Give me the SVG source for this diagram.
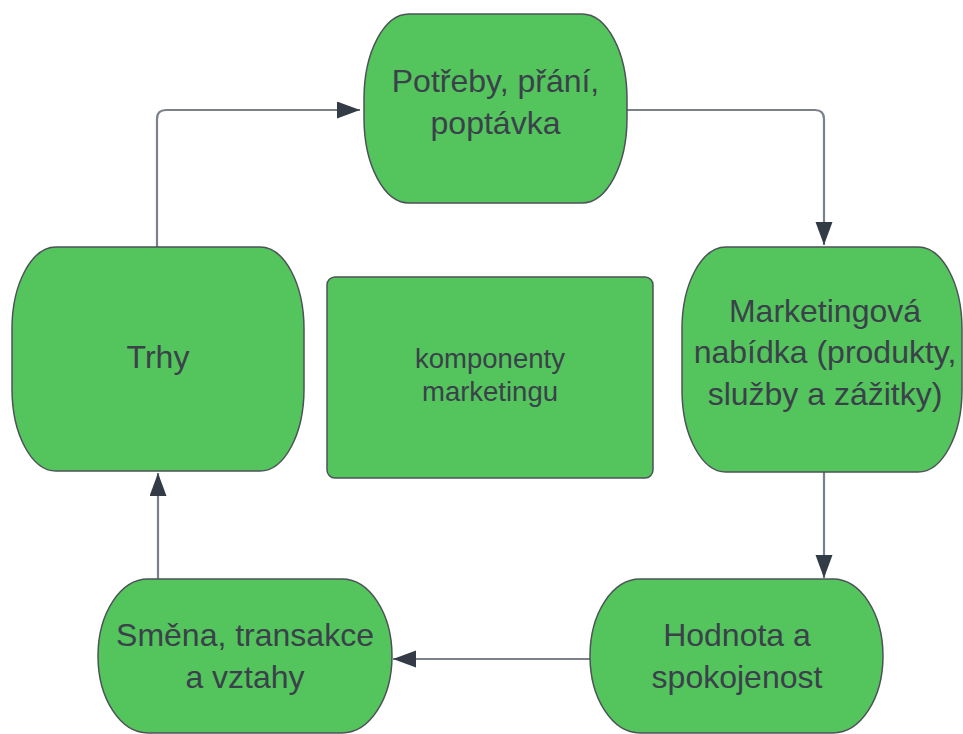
<svg xmlns="http://www.w3.org/2000/svg" width="963" height="734" viewBox="0 0 963 734">
<defs>
<marker id="arr" markerUnits="userSpaceOnUse" markerWidth="24" markerHeight="18" refX="23" refY="8.5" orient="auto">
<path d="M0,0 L23,8.5 L0,17 Z" fill="#333b47"/>
</marker>
<style>
.node{fill:#54c45c;stroke:#4d5258;stroke-width:1.5}
.t{font-family:"Liberation Sans",Arial,sans-serif;font-size:32px;fill:#3a414a;text-anchor:middle}
.s{font-family:"Liberation Sans",Arial,sans-serif;font-size:27.5px;fill:#3a414a;text-anchor:middle}
.c{fill:none;stroke:#7b8089;stroke-width:2.2}
</style>
</defs>
<rect width="963" height="734" fill="#ffffff"/>
<g id="connectors">
<path class="c" d="M157 247 V119 Q157 110 166 110 H360" marker-end="url(#arr)"/>
<path class="c" d="M627 110 H815 Q824 110 824 119 V245" marker-end="url(#arr)"/>
<path class="c" d="M824 472 V578" marker-end="url(#arr)"/>
<path class="c" d="M590 659 H393" marker-end="url(#arr)"/>
<path class="c" d="M158 579 V473" marker-end="url(#arr)"/>
</g>
<g id="node-potreby">
<rect class="node" x="364" y="14" width="263" height="189" rx="45" ry="85"/>
<text class="t" x="495.5" y="92">Potřeby, přání,</text>
<text class="t" x="495.5" y="134">poptávka</text>
</g>
<g id="node-trhy">
<rect class="node" x="12" y="247" width="292" height="224" rx="44" ry="82"/>
<text class="t" x="158" y="368">Trhy</text>
</g>
<g id="node-nabidka">
<rect class="node" x="682" y="247" width="280" height="225" rx="44" ry="82"/>
<text class="t" x="825" y="322">Marketingová</text>
<text class="t" x="825" y="363">nabídka (produkty,</text>
<text class="t" x="825" y="405">služby a zážitky)</text>
</g>
<g id="node-komponenty">
<rect class="node" x="327" y="277" width="326" height="201" rx="8" ry="8"/>
<text class="s" x="490" y="368">komponenty</text>
<text class="s" x="490" y="401">marketingu</text>
</g>
<g id="node-hodnota">
<rect class="node" x="590" y="579" width="293" height="154" rx="50" ry="77"/>
<text class="t" x="737" y="646">Hodnota a</text>
<text class="t" x="737" y="688">spokojenost</text>
</g>
<g id="node-smena">
<rect class="node" x="98" y="579" width="294" height="154" rx="50" ry="77"/>
<text class="t" x="245" y="646">Směna, transakce</text>
<text class="t" x="245" y="688">a vztahy</text>
</g>
</svg>
